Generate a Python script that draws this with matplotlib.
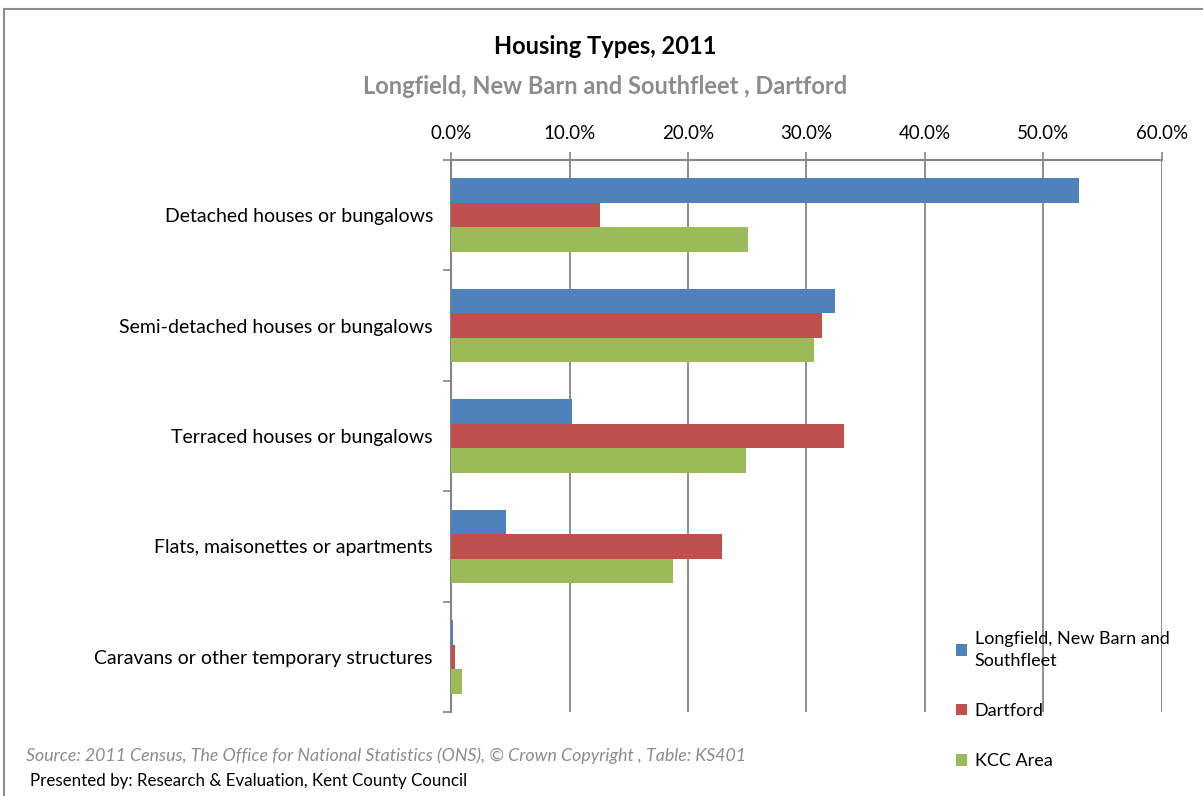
import numpy as np
import matplotlib
matplotlib.use('Agg')
import matplotlib.pyplot as plt
from matplotlib.ticker import FuncFormatter

plt.rcParams['font.family'] = ['Lato', 'DejaVu Sans']

# Housing types, share of households (%)
categories = ['Detached houses or bungalows',
              'Semi-detached houses or bungalows',
              'Terraced houses or bungalows',
              'Flats, maisonettes or apartments',
              'Caravans or other temporary structures']
series_names = ['Longfield, New Barn and\nSouthfleet', 'Dartford', 'KCC Area']
longfield = [53.0, 32.4, 10.2, 4.6, 0.15]
dartford = [12.6, 31.3, 33.2, 22.9, 0.3]
kcc = [25.1, 30.6, 24.9, 18.7, 0.9]
colors = ['#4F81BD', '#C0504D', '#9BBB59']

fig = plt.figure(figsize=(12.03, 7.96), dpi=100)
ax = fig.add_axes([0.3749, 0.1055, 0.5910, 0.6935])

y = np.arange(len(categories))
h = 0.222
for i, (vals, name, c) in enumerate(zip([longfield, dartford, kcc], series_names, colors)):
    ax.barh(y + (i - 1) * h, vals, height=h, color=c, label=name, zorder=3)

ax.set_xlim(0, 60)
ax.set_ylim(len(categories) - 0.5, -0.5)
ax.xaxis.tick_top()
ax.set_xticks(np.arange(0, 61, 10))
ax.xaxis.set_major_formatter(FuncFormatter(lambda v, p: f'{v:.1f}%'))
ax.set_yticks(y)
ax.set_yticklabels(categories)
ax.set_yticks(np.arange(-0.5, len(categories)), minor=True)
ax.tick_params(axis='y', which='major', length=0, pad=13, labelsize=14)
ax.tick_params(axis='y', which='minor', length=6, color='#868686', width=1.2)
ax.tick_params(axis='x', length=6, color='#868686', width=1.2, labelsize=13.5, pad=7)
ax.grid(axis='x', color='#868686', linewidth=1.3, zorder=0)
for s in ['right', 'bottom']:
    ax.spines[s].set_visible(False)
for s in ['top', 'left']:
    ax.spines[s].set_color('#868686')
    ax.spines[s].set_linewidth(1.5)

fig.text(0.503, 0.941, 'Housing Types, 2011', ha='center', va='center',
         fontsize=17, fontweight='bold')
fig.text(0.503, 0.891, 'Longfield, New Barn and Southfleet , Dartford', ha='center',
         va='center', fontsize=17, fontweight='bold', color='#8C8C8C')

leg = fig.legend(loc='upper left', bbox_to_anchor=(0.781, 0.228), frameon=False,
                 fontsize=13, handlelength=0.6, handleheight=0.6, handletextpad=0.45,
                 labelspacing=1.9)
for t in leg.get_texts():
    t.set_linespacing(1.45)

fig.text(0.022, 0.050, 'Source: 2011 Census, The Office for National Statistics (ONS), \u00a9 Crown Copyright , Table: KS401',
         fontsize=12.8, style='italic', color='#8C8C8C', va='center')
fig.text(0.025, 0.019, 'Presented by: Research & Evaluation, Kent County Council',
         fontsize=12.2, va='center')

# outer frame
fig.add_artist(plt.Line2D([0.003, 0.003], [0, 0.989], color='#8C8C8C', lw=1.5, transform=fig.transFigure))
fig.add_artist(plt.Line2D([0.003, 1.0], [0.989, 0.989], color='#8C8C8C', lw=1.5, transform=fig.transFigure))

fig.savefig('out.png', dpi=100)
